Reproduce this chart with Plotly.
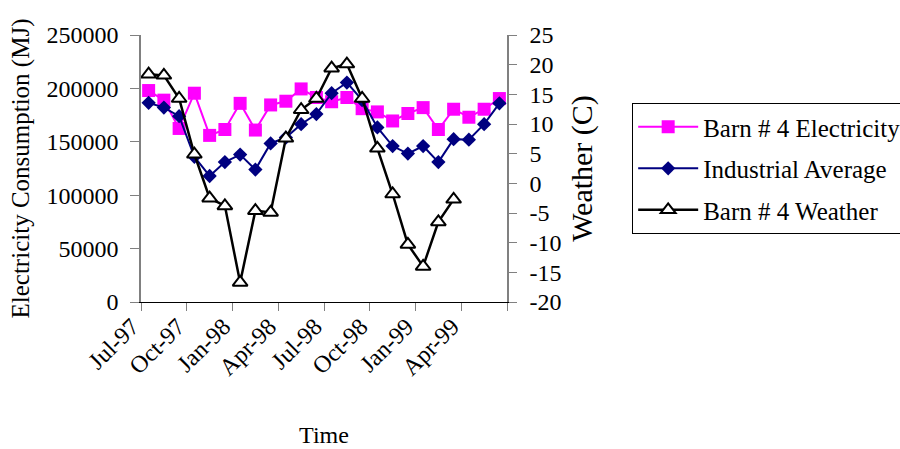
import plotly.graph_objects as go

# Monthly categories, Jul-97 .. Jun-99
months = ["Jul-97", "Aug-97", "Sep-97", "Oct-97", "Nov-97", "Dec-97",
          "Jan-98", "Feb-98", "Mar-98", "Apr-98", "May-98", "Jun-98",
          "Jul-98", "Aug-98", "Sep-98", "Oct-98", "Nov-98", "Dec-98",
          "Jan-99", "Feb-99", "Mar-99", "Apr-99", "May-99", "Jun-99"]

# Electricity consumption (MJ)
barn4_electricity = [198000, 189000, 162500, 195500, 156000, 161500,
                     186000, 161000, 184500, 188000, 199500, 191500,
                     187500, 191500, 181000, 178000, 169500, 176500,
                     182000, 161500, 180500, 173000, 180500, 190500]
industrial_average = [186500, 182000, 174000, 136000, 118000, 131000,
                      138000, 124000, 148500, 154000, 166500, 176000,
                      195500, 205500, 189000, 163500, 146000, 139000,
                      146000, 131000, 152500, 152000, 166500, 186000]

# Mean temperature (C), Jul-97 .. Mar-99
barn4_weather = [18.4, 18.2, 14.3, 4.9, -2.5, -3.8, -16.7, -4.6, -4.9,
                 7.6, 12.4, 14.3, 19.4, 20.1, 14.3, 5.9, -1.8, -10.3,
                 -14.0, -6.5, -2.7]

# Axis ticks
date_labels = ["Jul-97", "Oct-97", "Jan-98", "Apr-98",
               "Jul-98", "Oct-98", "Jan-99", "Apr-99", ""]
energy_ticks = [0, 50000, 100000, 150000, 200000, 250000]
temp_ticks = [-20, -15, -10, -5, 0, 5, 10, 15, 20, 25]

FONT = "Liberation Serif, Times New Roman, serif"
GRAY = "#808080"

idx = list(range(len(months)))
# tick marks sit on the boundaries between every third month
boundaries = [i - 0.5 for i in range(0, len(months) + 1, 3)]

fig = go.Figure()

fig.add_trace(go.Scatter(
    x=idx, y=barn4_electricity, text=months, name="Barn # 4 Electricity",
    mode="lines+markers", legendgroup="a",
    line=dict(color="#FF00FF", width=2),
    marker=dict(symbol="square", size=13, color="#FF00FF"),
    yaxis="y", xaxis="x"))

fig.add_trace(go.Scatter(
    x=idx, y=industrial_average, text=months, name="Industrial Average",
    mode="lines+markers", legendgroup="b",
    line=dict(color="#000080", width=2),
    marker=dict(symbol="diamond", size=11, color="#000080"),
    yaxis="y", xaxis="x"))

fig.add_trace(go.Scatter(
    x=idx[:len(barn4_weather)], y=barn4_weather, text=months,
    name="Barn # 4 Weather",
    mode="lines+markers", legendgroup="c",
    line=dict(color="black", width=2.5),
    marker=dict(symbol="triangle-up", size=13, color="white",
                line=dict(color="black", width=2)),
    yaxis="y2", xaxis="x"))

xr = [-0.5, len(months) - 0.5]

fig.update_layout(
    width=900, height=449,
    margin=dict(l=141, r=393, t=35, b=147, autoexpand=False),
    paper_bgcolor="white", plot_bgcolor="white",
    font=dict(family=FONT, size=24, color="black"),
    showlegend=True,
    legend=dict(x=1.342, y=0.745, xanchor="left", yanchor="top",
                bordercolor="black", borderwidth=1, bgcolor="white",
                font=dict(family=FONT, size=25, color="black"),
                itemwidth=60, tracegroupgap=6),
    xaxis=dict(range=xr, tickmode="array", tickvals=boundaries,
               ticktext=date_labels, tickangle=-45, ticklabelshift=-9,
               ticklabelstandoff=-8,
               ticks="outside", ticklen=8, tickcolor=GRAY, tickwidth=1,
               showline=True, linecolor="black", linewidth=1,
               showgrid=False, zeroline=False,
               tickfont=dict(size=24),
               title=dict(text="Time", font=dict(size=24), standoff=46)),
    xaxis2=dict(range=xr, overlaying="x", anchor="y", tickmode="array",
                tickvals=boundaries, ticks="inside", ticklen=8,
                tickcolor=GRAY, showticklabels=False, showline=False,
                showgrid=False, zeroline=False),
    yaxis=dict(range=[0, 250000], tickmode="array", tickvals=energy_ticks,
               tickformat="d", ticks="outside", ticklen=9, tickcolor=GRAY,
               ticklabelstandoff=7,
               showline=True, linecolor=GRAY, linewidth=1.5,
               showgrid=False, zeroline=False, tickfont=dict(size=24),
               title=dict(text="Electricity Consumption (MJ)",
                          font=dict(size=25), standoff=10)),
    yaxis3=dict(range=[0, 250000], overlaying="y", anchor="x",
                tickmode="array", tickvals=energy_ticks, ticks="inside",
                ticklen=7, tickcolor=GRAY, showticklabels=False,
                showline=False, showgrid=False, zeroline=False),
    yaxis2=dict(range=[-20, 25], overlaying="y", side="right", anchor="x",
                tickmode="array", tickvals=temp_ticks,
                ticktext=[str(t) for t in temp_ticks],
                ticks="outside", ticklen=8, tickcolor=GRAY,
                ticklabelstandoff=8,
                showline=True, linecolor=GRAY, linewidth=1.5,
                showgrid=False, zeroline=False, tickfont=dict(size=24),
                title=dict(text="Weather (C)", font=dict(size=30),
                           standoff=10)),
    yaxis4=dict(range=[-20, 25], overlaying="y", side="right", anchor="x",
                tickmode="array", tickvals=temp_ticks, ticks="inside",
                ticklen=8, tickcolor=GRAY, showticklabels=False,
                showline=False, showgrid=False, zeroline=False),
)

fig.write_html("out.html")
